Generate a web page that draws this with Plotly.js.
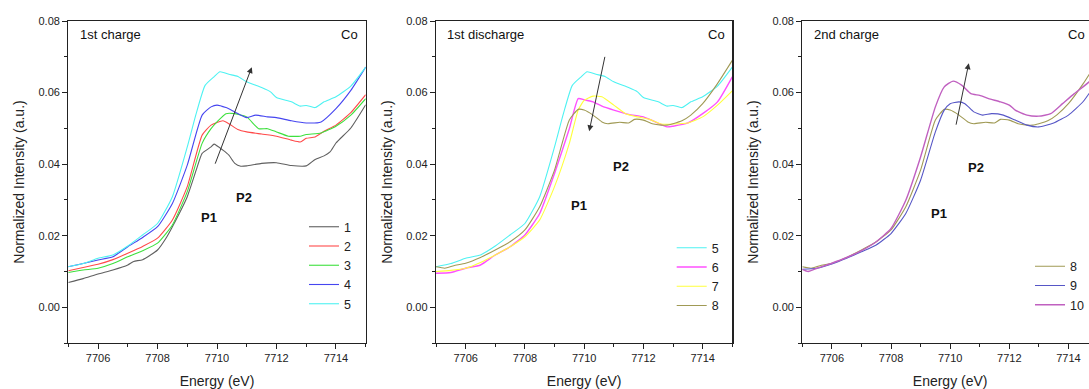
<!DOCTYPE html>
<html>
<head>
<meta charset="utf-8">
<script src="https://cdn.plot.ly/plotly-3.0.1.min.js"></script>
<style>
html,body{margin:0;padding:0;overflow:hidden;background:#fff;}
#chart{width:1100px;height:389px;}
</style>
</head>
<body>
<div id="chart"></div>
<script>
// ---- data ----
const s1x = [7705,7705.5,7706,7706.5,7707,7707.2,7707.5,7708,7708.3,7708.5,7709,7709.3,7709.5,7709.8,7709.9,7710.2,7710.4,7710.6,7710.8,7711,7711.5,7712,7712.5,7713,7713.3,7713.6,7713.8,7714,7714.5,7715];
const s1y = [.0069,.0080,.0093,.0104,.0118,.0128,.0133,.0160,.0195,.0225,.0309,.0383,.0430,.0448,.0456,.0439,.0425,.0402,.0394,.0395,.0402,.0404,.0396,.0395,.0413,.0423,.0434,.0459,.0501,.0566];

const s2x = [7705,7705.5,7706,7706.5,7707,7707.5,7708,7708.5,7709,7709.5,7709.8,7710.2,7710.4,7710.7,7711,7711.5,7712,7712.5,7712.8,7713,7713.3,7713.6,7714,7714.5,7715];
const s2y = [.0102,.0111,.0120,.0133,.0151,.0170,.0193,.0244,.0337,.0481,.0509,.0521,.0513,.0497,.0490,.0484,.0478,.0467,.0462,.0472,.0476,.0492,.0509,.0544,.0594];

const s3x = [7705,7705.5,7706,7706.5,7707,7707.5,7708,7708.5,7709,7709.5,7709.8,7710,7710.3,7710.6,7711,7711.4,7711.7,7712,7712.4,7712.8,7713,7713.5,7714,7714.5,7715];
const s3y = [.0097,.0104,.0109,.0122,.0141,.0158,.0179,.0230,.0323,.0458,.0499,.0518,.0541,.0541,.0532,.0499,.0499,.0490,.0478,.0478,.0483,.0487,.0506,.0537,.0583];

const s4x = [7705,7705.5,7706,7706.5,7707,7707.5,7708,7708.5,7709,7709.5,7709.8,7710,7710.3,7710.6,7711,7711.3,7711.7,7712,7712.5,7713,7713.5,7714,7714.5,7715];
const s4y = [.0113,.0122,.0132,.0141,.0169,.0195,.0225,.0290,.0397,.0537,.0560,.0565,.0558,.0546,.0530,.0537,.0532,.0530,.0521,.0515,.0518,.0555,.0606,.0671];

const s5x = [7705,7705.5,7706,7706.5,7707,7707.5,7708,7708.5,7709,7709.3,7709.6,7709.9,7710.1,7710.4,7710.7,7711,7711.5,7711.8,7712,7712.5,7712.8,7713,7713.3,7713.6,7714,7714.5,7715];
const s5y = [.0113,.0122,.0137,.0146,.0171,.0202,.0234,.0309,.0448,.0541,.0620,.0644,.0658,.0651,.0645,.0630,.0614,.0602,.0586,.0574,.0562,.0564,.0558,.0574,.0588,.0618,.0671];

const s6x = [7705,7705.5,7706,7706.5,7707,7707.5,7708,7708.5,7709,7709.5,7709.8,7710,7710.3,7710.6,7711,7711.5,7712,7712.4,7712.8,7713,7713.5,7714,7714.5,7715];
const s6y = [.0095,.0097,.0109,.0118,.0146,.0169,.0202,.0262,.0374,.0499,.0583,.0580,.0574,.0562,.0551,.0539,.0532,.0518,.0504,.0506,.0515,.0541,.0574,.0644];

const s7x = [7705,7705.5,7706,7706.5,7707,7707.5,7708,7708.5,7709,7709.5,7709.8,7710,7710.3,7710.6,7711,7711.4,7711.8,7712.2,7712.6,7713,7713.5,7714,7714.5,7715];
const s7y = [.0100,.0103,.0109,.0125,.0146,.0169,.0197,.0244,.0337,.0458,.0551,.0578,.0590,.0588,.0565,.0541,.0532,.0525,.0512,.0512,.0515,.0532,.0565,.0605];

const s8x = [7705,7705.3,7705.6,7706,7706.5,7707,7707.5,7708,7708.5,7709,7709.5,7709.8,7710,7710.3,7710.6,7710.8,7711.2,7711.5,7711.7,7712,7712.3,7712.6,7712.8,7713,7713.3,7713.6,7714,7714.5,7715];
const s8y = [.0113,.0109,.0116,.0123,.0139,.0160,.0183,.0216,.0281,.0383,.0523,.0553,.0551,.0537,.0518,.0513,.0517,.0515,.0525,.0523,.0513,.0509,.0509,.0513,.0521,.0537,.0569,.0625,.0690];

const s9x = [7705,7705.5,7706,7706.5,7707,7707.5,7708,7708.5,7709,7709.5,7709.8,7710,7710.3,7710.5,7710.8,7711.1,7711.4,7711.8,7712.2,7712.6,7713,7713.5,7714,7714.5,7715];
const s9y = [.0106,.0109,.0121,.0137,.0155,.0174,.0206,.0262,.0355,.0490,.0551,.0569,.0574,.0569,.0546,.0537,.0541,.0537,.0523,.0509,.0504,.0515,.0537,.0575,.0634];

const s10x = [7705,7705.2,7705.5,7706,7706.5,7707,7707.5,7708,7708.5,7709,7709.5,7709.8,7710.1,7710.4,7710.7,7711,7711.3,7711.7,7712,7712.2,7712.6,7713,7713.4,7713.8,7714.2,7714.7,7715];
const s10y = [.0106,.0100,.0109,.0123,.0139,.0158,.0183,.0220,.0299,.0420,.0560,.0616,.0632,.0620,.0597,.0592,.0583,.0574,.0565,.0551,.0537,.0534,.0541,.0569,.0597,.0630,.0662];

const panelTitles = ["1st charge", "1st discharge", "2nd charge"];
const elementLabel = "Co";
const peakLabels = ["P1", "P2"];
const xTitle = "Energy (eV)";
const yTitle = "Normalized Intensity (a.u.)";

// ---- styling ----
const FONT = "Arial, 'Liberation Sans', sans-serif";
const W = 1100, H = 389;
const colors = {
  1:'#606060', 2:'#ff4a4a', 3:'#3ee03e', 4:'#4646f0', 5:'#4ef2f2',
  6:'#ff50ff', 7:'#ffff3c', 8:'#a09a55', 9:'#5656c6', 10:'#c060c0'
};

function tr(name, x, y, xa, ya, leg, width) {
  return {x: x, y: y, name: name, type: 'scatter', mode: 'lines',
          xaxis: xa, yaxis: ya, legend: leg,
          line: {color: colors[name], width: width || 1.1, shape: 'spline', smoothing: 0.5}};
}

const data = [
  tr('1', s1x, s1y, 'x', 'y', 'legend'),
  tr('2', s2x, s2y, 'x', 'y', 'legend'),
  tr('3', s3x, s3y, 'x', 'y', 'legend'),
  tr('4', s4x, s4y, 'x', 'y', 'legend'),
  tr('5', s5x, s5y, 'x', 'y', 'legend'),
  tr('5', s5x, s5y, 'x2', 'y2', 'legend2'),
  tr('6', s6x, s6y, 'x2', 'y2', 'legend2', 1.4),
  tr('7', s7x, s7y, 'x2', 'y2', 'legend2'),
  tr('8', s8x, s8y, 'x2', 'y2', 'legend2'),
  tr('8', s8x, s8y, 'x3', 'y3', 'legend3'),
  tr('9', s9x, s9y, 'x3', 'y3', 'legend3'),
  tr('10', s10x, s10y, 'x3', 'y3', 'legend3', 1.4)
];

const domains = [[68.3/W, 365.7/W], [436/W, 732.3/W], [802.3/W, 1098/W]];

function xax(i) {
  return {
    domain: domains[i], range: [7705, 7715], dtick: 2, tick0: 7706,
    anchor: i === 0 ? 'y' : 'y' + (i + 1),
    showgrid: false, zeroline: false,
    showline: true, linecolor: '#222', linewidth: 1.2, mirror: true,
    ticks: 'outside', ticklen: 5, tickwidth: 1, tickcolor: '#222',
    minor: {dtick: 1, ticks: 'outside', ticklen: 3, tickcolor: '#222', showgrid: false},
    tickfont: {family: FONT, size: 11, color: '#222'},
    title: {text: xTitle, font: {family: FONT, size: 14, color: '#222'}, standoff: 13}
  };
}
function yax(i) {
  return {
    domain: [0, 1], range: [-0.01, 0.08], dtick: 0.02, tick0: 0, tickformat: '.2f',
    anchor: i === 0 ? 'x' : 'x' + (i + 1),
    showgrid: false, zeroline: false,
    showline: true, linecolor: '#222', linewidth: 1.2, mirror: true,
    ticks: 'outside', ticklen: 5, tickwidth: 1, tickcolor: '#222',
    minor: {dtick: 0.01, ticks: 'outside', ticklen: 3, tickcolor: '#222', showgrid: false},
    tickfont: {family: FONT, size: 11, color: '#222'},
    title: {text: yTitle, font: {family: FONT, size: 14, color: '#222'}, standoff: 10}
  };
}

function legendBox(x, y) {
  return {x: x, y: y, xanchor: 'left', yanchor: 'top', xref: 'paper', yref: 'paper',
          bgcolor: 'rgba(0,0,0,0)', borderwidth: 0, tracegroupgap: 0,
          font: {family: FONT, size: 12.5, color: '#222'}};
}

const txtFont = {family: FONT, size: 13, color: '#111'};
const boldFont = {family: FONT, size: 13, color: '#111', weight: 'bold'};
const ann = [];
const refs = [['x', 'y'], ['x2', 'y2'], ['x3', 'y3']];
const titleX = [10/297.4, 9/296.3, 9.4/295.7];
const coX = [1 - 5.7/297.4, 1 - 5/296.3, (1087 - 802.3)/295.7];
for (let i = 0; i < 3; i++) {
  ann.push({xref: refs[i][0] + ' domain', yref: refs[i][1] + ' domain', x: titleX[i], y: 0.958,
            xanchor: 'left', yanchor: 'middle', text: panelTitles[i], showarrow: false, font: txtFont});
  ann.push({xref: refs[i][0] + ' domain', yref: refs[i][1] + ' domain', x: coX[i], y: 0.958,
            xanchor: 'right', yanchor: 'middle', text: elementLabel, showarrow: false, font: txtFont});
}
// peak labels (positions in data coordinates)
const pPos = [
  [[7709.72, 0.0252], [7710.9, 0.0308]],
  [[7709.83, 0.0283], [7711.25, 0.0394]],
  [[7709.62, 0.0263], [7710.87, 0.0391]]
];
for (let i = 0; i < 3; i++) {
  for (let k = 0; k < 2; k++) {
    ann.push({xref: refs[i][0], yref: refs[i][1], x: pPos[i][k][0], y: pPos[i][k][1],
              text: '<b>' + peakLabels[k] + '</b>', showarrow: false, font: boldFont});
  }
}
// arrows
const arrows = [
  [[7709.92, 0.0397], [7711.17, 0.0671]],
  [[7710.71, 0.0704], [7710.17, 0.0492]],
  [[7710.19, 0.0506], [7710.63, 0.0682]]
];
for (let i = 0; i < 3; i++) {
  ann.push({xref: refs[i][0], yref: refs[i][1], axref: refs[i][0], ayref: refs[i][1],
            x: arrows[i][1][0], y: arrows[i][1][1], ax: arrows[i][0][0], ay: arrows[i][0][1],
            text: '', showarrow: true, arrowhead: 2, arrowsize: 1.2, arrowwidth: 1,
            arrowcolor: '#333', standoff: 0, startstandoff: 0});
}

const mt = 20.7, mb = 46;
const ph = H - mt - mb;
function py(p) { return (H - mb - p) / ph; }

const layout = {
  width: W, height: H,
  margin: {l: 0, r: 0, t: mt, b: mb, pad: 0},
  paper_bgcolor: '#fff', plot_bgcolor: '#fff',
  font: {family: FONT, color: '#222'},
  showlegend: true,
  xaxis: xax(0), xaxis2: xax(1), xaxis3: xax(2),
  yaxis: yax(0), yaxis2: yax(1), yaxis3: yax(2),
  legend: legendBox(304/W, py(212)),
  legend2: legendBox(671.7/W, py(233)),
  legend3: legendBox(1030/W, py(251.5)),
  annotations: ann
};

Plotly.newPlot('chart', data, layout, {displayModeBar: false, responsive: false, staticPlot: true});
</script>
</body>
</html>
